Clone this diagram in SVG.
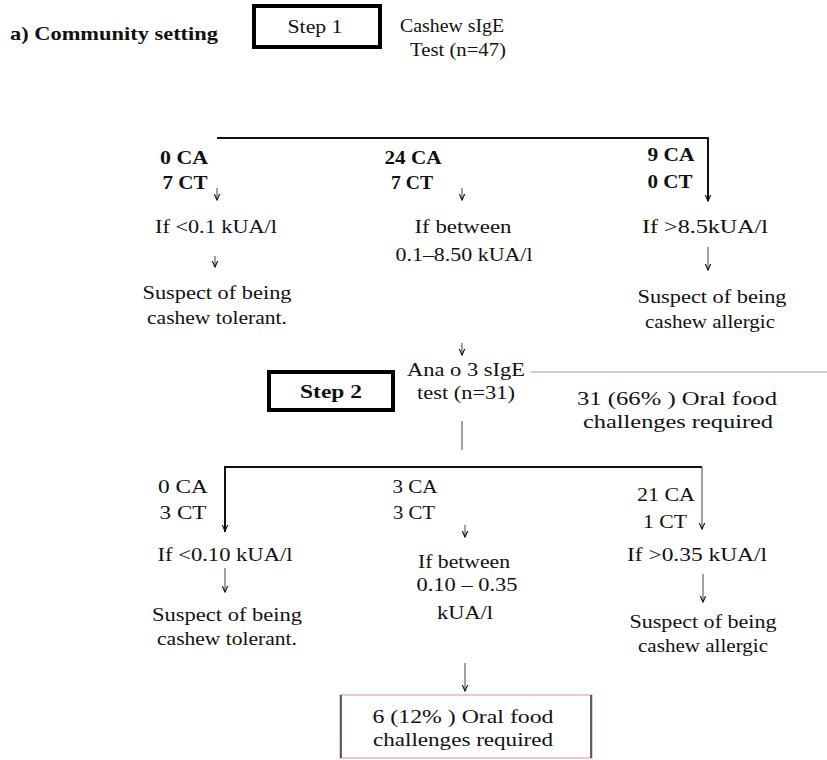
<svg xmlns="http://www.w3.org/2000/svg" width="827" height="760" viewBox="0 0 827 760">
<style>
text{font-family:"Liberation Serif","Times New Roman",serif;font-size:19px;fill:#111;text-anchor:middle}
.l{text-anchor:start}
.b{font-weight:bold}
.step{fill:#fff;stroke:#000;stroke-width:4}
.ln{stroke:#111;stroke-width:2;fill:none}
.th{stroke:#444;stroke-width:1;fill:none}
.red{stroke:#b09a9c;stroke-width:1.2;fill:none}
</style>
<defs>
<marker id="ah" viewBox="0 0 10 10" refX="9" refY="5" markerWidth="7" markerHeight="7" orient="auto" markerUnits="userSpaceOnUse">
<path d="M0,1 L9,5 L0,9" fill="none" stroke="#111" stroke-width="1.6"/>
</marker>
</defs>
<rect width="827" height="760" fill="#fff"/>

<g id="connectors">
<polyline class="ln" points="217,138 708,138 708,201" marker-end="url(#ah)"/>
<line class="th" x1="217" y1="188" x2="217" y2="200" marker-end="url(#ah)"/>
<line class="th" x1="462" y1="188" x2="462" y2="200" marker-end="url(#ah)"/>
<line class="th" x1="215" y1="256" x2="215" y2="267" marker-end="url(#ah)"/>
<line class="th" x1="708" y1="247" x2="708" y2="270" marker-end="url(#ah)"/>
<line class="th" x1="462" y1="343" x2="462" y2="355" marker-end="url(#ah)"/>
<line class="red" x1="530" y1="372" x2="827" y2="372"/>
<line class="th" x1="462" y1="421" x2="462" y2="450"/>
<polyline class="ln" points="225,532 225,467 702,467"/>
<line class="ln" x1="225" y1="500" x2="225" y2="531" marker-end="url(#ah)"/>
<line class="th" x1="702" y1="467" x2="702" y2="529" marker-end="url(#ah)"/>
<line class="th" x1="465" y1="525" x2="465" y2="537" marker-end="url(#ah)"/>
<line class="th" x1="225" y1="568" x2="225" y2="592" marker-end="url(#ah)"/>
<line class="th" x1="703" y1="574" x2="703" y2="602" marker-end="url(#ah)"/>
<line class="th" x1="465" y1="663" x2="465" y2="691" marker-end="url(#ah)"/>
</g>

<g id="title"><text class="l b" x="10" y="40" textLength="208" lengthAdjust="spacingAndGlyphs">a) Community setting</text></g>
<g id="step1"><rect class="step" x="254" y="6" width="126" height="41"/><text x="315" y="33" textLength="55" lengthAdjust="spacingAndGlyphs">Step 1</text></g>
<g id="test1"><text x="452" y="32" textLength="104" lengthAdjust="spacingAndGlyphs">Cashew sIgE</text><text x="458" y="56" textLength="96" lengthAdjust="spacingAndGlyphs">Test (n=47)</text></g>

<g id="n_l1"><text class="b" x="184" y="164" textLength="48" lengthAdjust="spacingAndGlyphs">0 CA</text><text class="b" x="185" y="189" textLength="45" lengthAdjust="spacingAndGlyphs">7 CT</text></g>
<g id="n_m1"><text class="b" x="413" y="164" textLength="57" lengthAdjust="spacingAndGlyphs">24 CA</text><text class="b" x="412" y="189" textLength="42" lengthAdjust="spacingAndGlyphs">7 CT</text></g>
<g id="n_r1"><text class="b" x="671" y="161" textLength="47" lengthAdjust="spacingAndGlyphs">9 CA</text><text class="b" x="670" y="188" textLength="45" lengthAdjust="spacingAndGlyphs">0 CT</text></g>

<g id="c_l1"><text x="216" y="233" textLength="122" lengthAdjust="spacingAndGlyphs">If &lt;0.1 kUA/l</text></g>
<g id="c_m1"><text x="463" y="233" textLength="97" lengthAdjust="spacingAndGlyphs">If between</text><text x="464" y="261" textLength="137" lengthAdjust="spacingAndGlyphs">0.1–8.50 kUA/l</text></g>
<g id="c_r1"><text x="705" y="233" textLength="126" lengthAdjust="spacingAndGlyphs">If &gt;8.5kUA/l</text></g>

<g id="s_l1"><text x="217" y="299" textLength="149" lengthAdjust="spacingAndGlyphs">Suspect of being</text><text x="217" y="324" textLength="140" lengthAdjust="spacingAndGlyphs">cashew tolerant.</text></g>
<g id="s_r1"><text x="712" y="303" textLength="149" lengthAdjust="spacingAndGlyphs">Suspect of being</text><text x="710" y="328" textLength="130" lengthAdjust="spacingAndGlyphs">cashew allergic</text></g>

<g id="test2"><text x="466" y="376" textLength="118" lengthAdjust="spacingAndGlyphs">Ana o 3 sIgE</text><text x="466" y="399" textLength="98" lengthAdjust="spacingAndGlyphs">test (n=31)</text></g>
<g id="step2"><rect class="step" x="269" y="372" width="124" height="38"/><text class="b" x="331" y="398" textLength="62" lengthAdjust="spacingAndGlyphs">Step 2</text></g>
<g id="ofc1"><text x="677" y="405" textLength="200" lengthAdjust="spacingAndGlyphs">31 (66% ) Oral food</text><text x="678" y="428" textLength="190" lengthAdjust="spacingAndGlyphs">challenges required</text></g>

<g id="n_l2"><text x="183" y="493" textLength="50" lengthAdjust="spacingAndGlyphs">0 CA</text><text x="183" y="519" textLength="47" lengthAdjust="spacingAndGlyphs">3 CT</text></g>
<g id="n_m2"><text x="415" y="493" textLength="45" lengthAdjust="spacingAndGlyphs">3 CA</text><text x="414" y="519" textLength="42" lengthAdjust="spacingAndGlyphs">3 CT</text></g>
<g id="n_r2"><text x="666" y="501" textLength="58" lengthAdjust="spacingAndGlyphs">21 CA</text><text x="665" y="528" textLength="44" lengthAdjust="spacingAndGlyphs">1 CT</text></g>

<g id="c_l2"><text x="225" y="561" textLength="135" lengthAdjust="spacingAndGlyphs">If &lt;0.10 kUA/l</text></g>
<g id="c_m2"><text x="464" y="568" textLength="92" lengthAdjust="spacingAndGlyphs">If between</text><text x="467" y="591" textLength="101" lengthAdjust="spacingAndGlyphs">0.10 – 0.35</text><text x="465" y="619" textLength="56" lengthAdjust="spacingAndGlyphs">kUA/l</text></g>
<g id="c_r2"><text x="697" y="561" textLength="140" lengthAdjust="spacingAndGlyphs">If &gt;0.35 kUA/l</text></g>

<g id="s_l2"><text x="227" y="621" textLength="150" lengthAdjust="spacingAndGlyphs">Suspect of being</text><text x="227" y="645" textLength="140" lengthAdjust="spacingAndGlyphs">cashew tolerant.</text></g>
<g id="s_r2"><text x="703" y="628" textLength="147" lengthAdjust="spacingAndGlyphs">Suspect of being</text><text x="703" y="652" textLength="130" lengthAdjust="spacingAndGlyphs">cashew allergic</text></g>

<g id="ofc2">
<rect x="340" y="695" width="252" height="63" fill="none" stroke="#e6b8bf" stroke-width="1.5"/>
<line x1="341" y1="695" x2="341" y2="758" stroke="#333" stroke-width="1.5"/>
<line x1="591" y1="695" x2="591" y2="758" stroke="#333" stroke-width="1.5"/>
<text x="463" y="723" textLength="181" lengthAdjust="spacingAndGlyphs">6 (12% ) Oral food</text><text x="463" y="746" textLength="180" lengthAdjust="spacingAndGlyphs">challenges required</text>
</g>
</svg>
